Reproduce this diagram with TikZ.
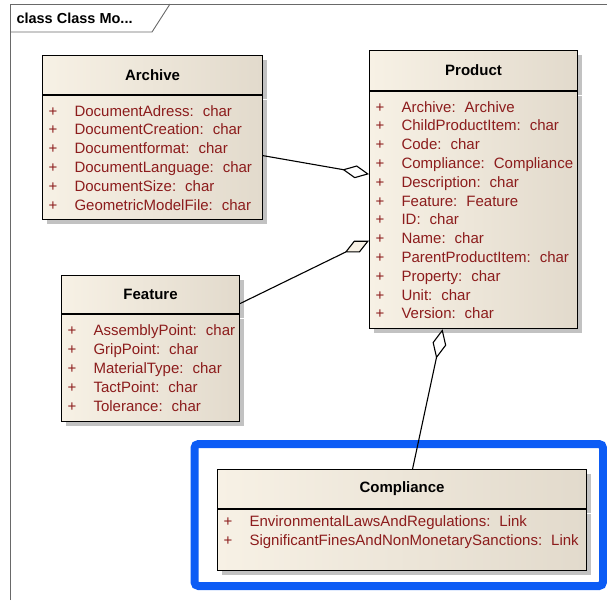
\documentclass[tikz,border=0pt]{standalone}
\usepackage{fontspec}
\setmainfont{Liberation Sans}
\usetikzlibrary{positioning, shadows, arrows.meta}

\definecolor{boxleft}{RGB}{247,241,229}
\definecolor{boxright}{RGB}{226,218,204}
\definecolor{attrred}{RGB}{140,28,28}
\definecolor{markblue}{RGB}{12,92,245}
\definecolor{framegray}{RGB}{105,105,105}

\newcommand{\attr}[2]{\mbox{\makebox[26pt][l]{+}#1:\hspace{0.6em}#2}}

\begin{document}
\begin{tikzpicture}[x=1pt, y=-1pt,
    classbox/.style={rectangle, draw=black, line width=1.1pt, left color=boxleft, right color=boxright,
      drop shadow={shadow xshift=4pt, shadow yshift=-4pt, fill=black!40, opacity=0.6}, inner ysep=0pt},
    classname/.style={classbox, anchor=north west, font=\fontsize{15}{18}\selectfont\bfseries},
    classattrs/.style={classbox, anchor=north west, align=left, text=attrred, inner xsep=6pt,
      font=\fontsize{15}{18.8}\selectfont},
    assoc/.style={line width=1.1pt, black}]

    \useasboundingbox (0,0) rectangle (607,600);

    % Frame
    \draw[framegray, line width=0.9pt] (10,600) -- (10,4) -- (607,4);
    \draw[framegray, line width=0.9pt] (10,32) -- (152,32) -- (170,4);
    \node (frametitle) [anchor=west, font=\fontsize{14.5}{17}\selectfont\bfseries] at (13,18) {class Class Mo...};

    % Nodes
    \node (archive) [classname, minimum width=220pt, minimum height=39pt] at (42,55) {Archive};
    \node (archiveattrs) [classattrs, text width=208pt, minimum height=124pt] at (archive.south west) {
      \attr{DocumentAdress}{char} \\
      \attr{DocumentCreation}{char} \\
      \attr{Documentformat}{char} \\
      \attr{DocumentLanguage}{char} \\
      \attr{DocumentSize}{char} \\
      \attr{GeometricModelFile}{char}};

    \node (product) [classname, minimum width=208pt, minimum height=40pt] at (369,50) {Product};
    \node (productattrs) [classattrs, text width=196pt, minimum height=237pt] at (product.south west) {
      \attr{Archive}{Archive} \\
      \attr{ChildProductItem}{char} \\
      \attr{Code}{char} \\
      \attr{Compliance}{Compliance} \\
      \attr{Description}{char} \\
      \attr{Feature}{Feature} \\
      \attr{ID}{char} \\
      \attr{Name}{char} \\
      \attr{ParentProductItem}{char} \\
      \attr{Property}{char} \\
      \attr{Unit}{char} \\
      \attr{Version}{char}};

    \node (feature) [classname, minimum width=178pt, minimum height=38pt] at (61,275) {Feature};
    \node (featureattrs) [classattrs, text width=166pt, minimum height=107pt] at (feature.south west) {
      \attr{AssemblyPoint}{char} \\
      \attr{GripPoint}{char} \\
      \attr{MaterialType}{char} \\
      \attr{TactPoint}{char} \\
      \attr{Tolerance}{char}};

    \node (compliance) [classname, minimum width=369pt, minimum height=39pt] at (217,469) {Compliance};
    \node (complianceattrs) [classattrs, text width=357pt, minimum height=61pt] at (compliance.south west) {
      \attr{EnvironmentalLawsAndRegulations}{Link} \\
      \attr{SignificantFinesAndNonMonetarySanctions}{Link} \\
      ~};

    % Highlight
    \draw[markblue, line width=8pt, rounded corners=4pt] (194.5,444) rectangle (603,586);

    % Arrows
    \draw[assoc, -{Diamond[open, length=27pt, width=13pt, line width=1.1pt]}]
      ([yshift=2pt]archiveattrs.east) -- ([yshift=36pt]productattrs.west);
    \draw[assoc, -{Diamond[fill=boxleft, length=27pt, width=13pt, line width=1.1pt]}]
      ([yshift=-9pt]feature.east) -- ([yshift=-30.5pt]productattrs.west);
    \draw[assoc, -{Diamond[open, length=30pt, width=14pt, line width=1.1pt]}]
      ([xshift=10.5pt]compliance.north) -- ([xshift=-31pt]productattrs.south);

\end{tikzpicture}
\end{document}
